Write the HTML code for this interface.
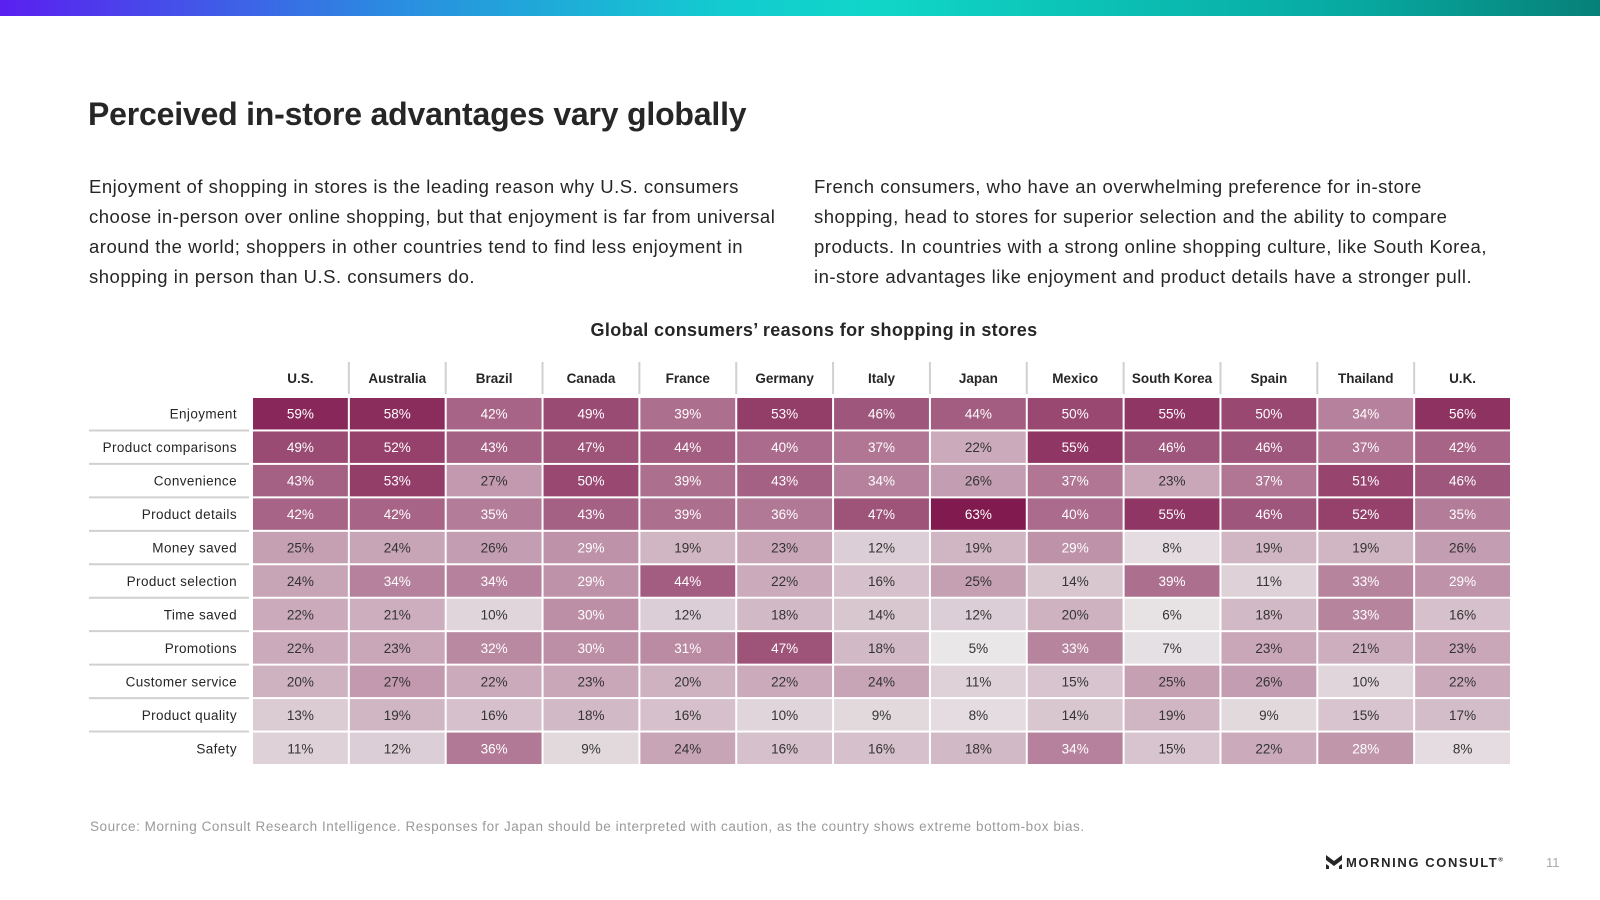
<!DOCTYPE html>
<html><head><meta charset="utf-8"><style>
body{margin:0;width:1600px;height:900px;background:#fff;font-family:"Liberation Sans",sans-serif;color:#262626;position:relative;overflow:hidden}
.bar{position:absolute;left:0;top:0;width:1600px;height:16px;background:linear-gradient(90deg,#5a1ff0 0%,#2a8ee0 25%,#13cbd0 45%,#10d6c8 55%,#07a8a0 85%,#078078 100%)}
h1{position:absolute;left:88px;top:96px;margin:0;font-size:32px;font-weight:bold;letter-spacing:-0.2px;color:#262626}
.p{position:absolute;top:172px;font-size:18.5px;line-height:30px;white-space:nowrap;color:#262626;letter-spacing:0.5px}
.ct{position:absolute;left:0;width:1628px;top:320px;text-align:center;font-weight:bold;font-size:18px;letter-spacing:0.35px}
.src{position:absolute;left:90px;top:819px;font-size:13.5px;color:#9a9a9a;letter-spacing:0.55px}
.logo{position:absolute;left:1326px;top:855px;font-size:13px;font-weight:bold;letter-spacing:1.6px;color:#262626}
.pg{position:absolute;left:1546px;top:855px;font-size:13px;color:#aaa}
svg text{font-family:"Liberation Sans",sans-serif}
</style></head><body>
<div class="bar"></div>
<h1>Perceived in-store advantages vary globally</h1>
<div class="p" style="left:89px">Enjoyment of shopping in stores is the leading reason why U.S. consumers<br>choose in-person over online shopping, but that enjoyment is far from universal<br>around the world; shoppers in other countries tend to find less enjoyment in<br>shopping in person than U.S. consumers do.</div>
<div class="p" style="left:814px">French consumers, who have an overwhelming preference for in-store<br>shopping, head to stores for superior selection and the ability to compare<br>products. In countries with a strong online shopping culture, like South Korea,<br>in-store advantages like enjoyment and product details have a stronger pull.</div>
<div class="ct">Global consumers’ reasons for shopping in stores</div>
<svg id="hm" width="1600" height="900" style="position:absolute;left:0;top:0"></svg>
<div class="src">Source: Morning Consult Research Intelligence. Responses for Japan should be interpreted with caution, as the country shows extreme bottom-box bias.</div>
<div class="logo"><svg width="16" height="14" viewBox="0 0 16 14" style="vertical-align:-2px;margin-right:4px"><path d="M0 0 L8 6 L16 0 L16 5 L8 11 L0 5Z M0 9 L3 11 L3 14 L0 14Z M16 9 L13 11 L13 14 L16 14Z" fill="#262626"/></svg>MORNING CONSULT<sup style="font-size:6px">®</sup></div>
<div class="pg">11</div>
<script>
const countries=["U.S.","Australia","Brazil","Canada","France","Germany","Italy","Japan","Mexico","South Korea","Spain","Thailand","U.K."];
const reasons=["Enjoyment","Product comparisons","Convenience","Product details","Money saved","Product selection","Time saved","Promotions","Customer service","Product quality","Safety"];
const v0=[59,58,42,49,39,53,46,44,50,55,50,34,56];
const v1=[49,52,43,47,44,40,37,22,55,46,46,37,42];
const v2=[43,53,27,50,39,43,34,26,37,23,37,51,46];
const v3=[42,42,35,43,39,36,47,63,40,55,46,52,35];
const v4=[25,24,26,29,19,23,12,19,29,8,19,19,26];
const v5=[24,34,34,29,44,22,16,25,14,39,11,33,29];
const v6=[22,21,10,30,12,18,14,12,20,6,18,33,16];
const v7=[22,23,32,30,31,47,18,5,33,7,23,21,23];
const v8=[20,27,22,23,20,22,24,11,15,25,26,10,22];
const v9=[13,19,16,18,16,10,9,8,14,19,9,15,17];
const v10=[11,12,36,9,24,16,16,18,34,15,22,28,8];
const values=[v0,v1,v2,v3,v4,v5,v6,v7,v8,v9,v10];
const NS="http://www.w3.org/2000/svg";
const svg=document.getElementById('hm');
const x0=252,x1=1511,y0=397,y1=765,hy=362;
const cw=(x1-x0)/countries.length, rh=(y1-y0)/reasons.length;
const xs=i=>x0+i*cw, ys=j=>y0+j*rh;
function color(v){const t=Math.max(0,Math.min(1,(v-5)/58));
const r=Math.round(233-t*104),g=Math.round(231-t*205),b=Math.round(232-t*153);return `rgb(${r},${g},${b})`;}
function mk(tag,attrs){const e=document.createElementNS(NS,tag);for(const k in attrs)e.setAttribute(k,attrs[k]);svg.appendChild(e);return e;}
countries.forEach((c,i)=>{
 const t=mk('text',{x:xs(i)+cw/2,y:hy+21,'text-anchor':'middle','font-size':13.5,'font-weight':'bold',fill:'#262626'});
 t.textContent=c;
 
 
 if(i>0){const l=mk('line',{x1:xs(i),x2:xs(i),y1:hy,y2:y0-3,stroke:'#d0d0d0','stroke-width':2});
 
 }
});
reasons.forEach((r,j)=>{
 const t=mk('text',{x:x0-15,y:ys(j)+rh/2+5,'text-anchor':'end','font-size':13.5,fill:'#262626','letter-spacing':'0.4'});
 t.textContent=r;
 
 
 if(j>0){const l=mk('line',{x1:89,x2:x0-3,y1:ys(j),y2:ys(j),stroke:'#d0d0d0','stroke-width':2});
 
 }
 values[j].forEach((v,i)=>{
  const rc=mk('rect',{x:xs(i)+1,y:ys(j)+1,width:cw-2,height:rh-2,fill:color(v)});
  
  
  const tx=mk('text',{x:xs(i)+cw/2,y:ys(j)+rh/2+5,'text-anchor':'middle','font-size':13.5,fill:v>=28?'#fff':'#333'});
  tx.textContent=v+'%';
  
  
 });
});
</script>
</body></html>
